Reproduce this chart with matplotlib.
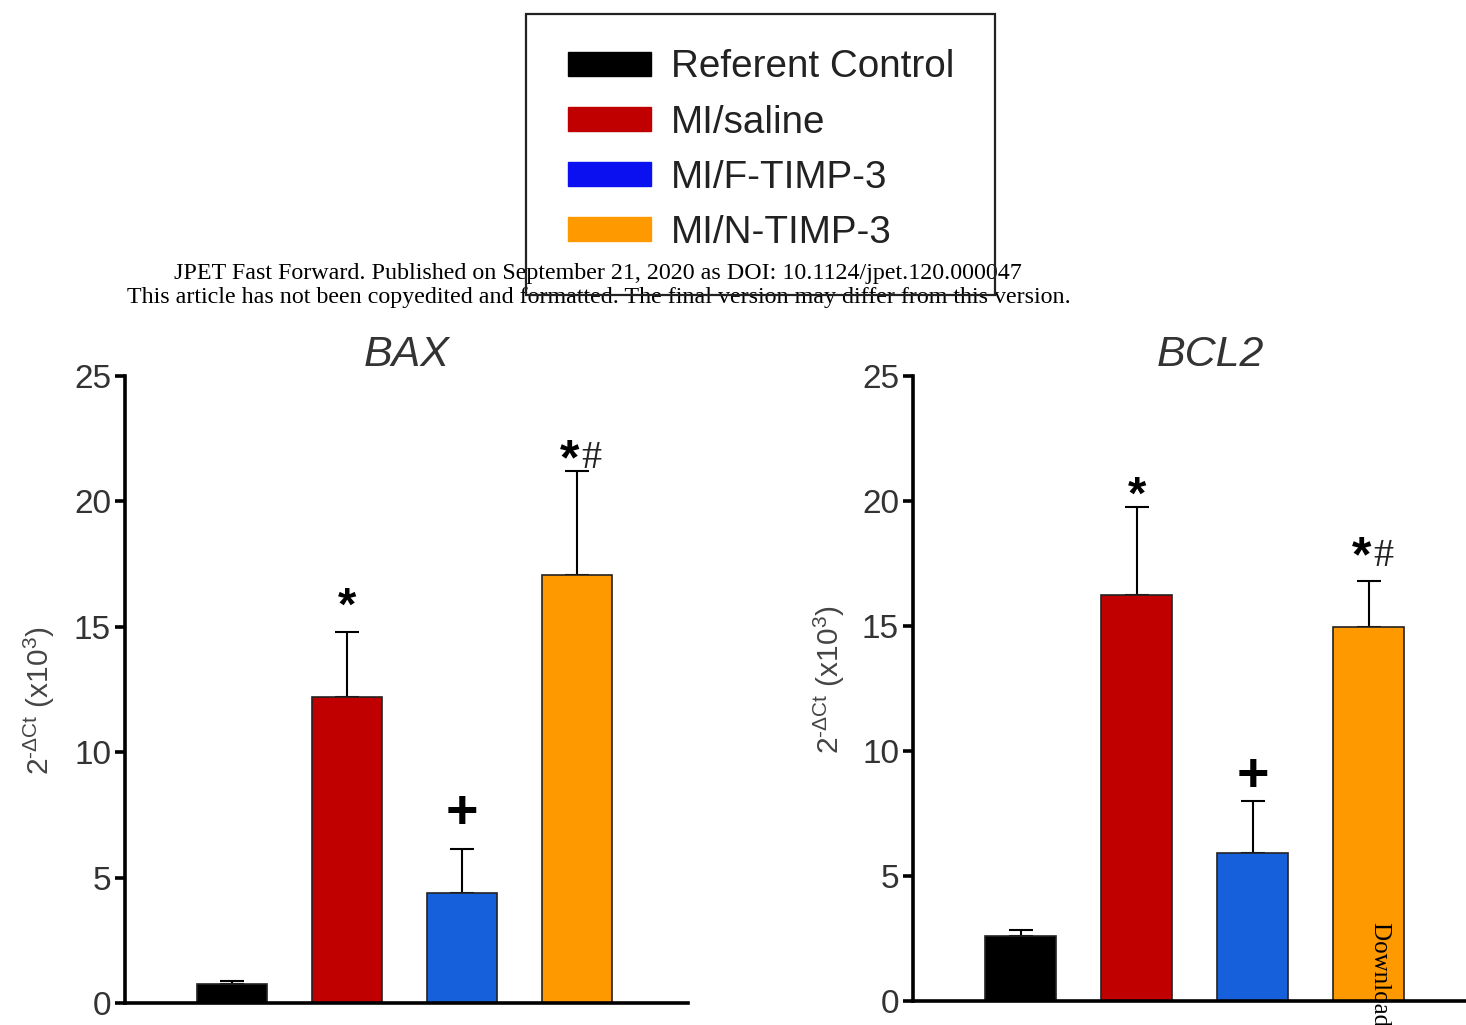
import numpy as np
from matplotlib import pyplot as plt
from matplotlib.patches import Patch, Rectangle

plt.rcParams['font.family'] = ['Liberation Sans', 'DejaVu Sans']
plt.rcParams['mathtext.default'] = 'regular'

groups = ["Referent Control", "MI/saline", "MI/F-TIMP-3", "MI/N-TIMP-3"]
bar_colors = ["#000000", "#C00000", "#1660DC", "#FF9900"]
legend_colors = ["#000000", "#C00000", "#0A10F0", "#FF9900"]

bax_mean = [0.76, 12.2, 4.4, 17.05]
bax_err = [0.12, 2.6, 1.75, 4.15]
bax_marks = ["", "*", "+", "*#"]
bax_mark_y = [0, 16.2, 7.7, 22.0]

bcl2_mean = [2.6, 16.25, 5.92, 14.96]
bcl2_err = [0.25, 3.5, 2.1, 1.85]
bcl2_marks = ["", "*", "+", "*#"]
bcl2_mark_y = [0, 20.6, 9.1, 18.1]

yticks = [0, 5, 10, 15, 20, 25]

fig = plt.figure(figsize=(14.66, 10.25), dpi=100)

panels = [
    ("BAX", bax_mean, bax_err, bax_marks, bax_mark_y,
     [125 / 1466, 22 / 1025, 563 / 1466, 627 / 1025], (-0.93, 3.97), 0.50,
     (-0.12, 0.483)),
    ("BCL2", bcl2_mean, bcl2_err, bcl2_marks, bcl2_mark_y,
     [913 / 1466, 24 / 1025, 553 / 1466, 625 / 1025], (-0.93, 3.84), 0.537,
     (-0.119, 0.515)),
]

for title, mean, err, marks, mark_y, rect, xlim, tx, lab in panels:
    ax = fig.add_axes(rect)
    x = np.arange(len(mean))
    ax.bar(x, mean, width=0.61, color=bar_colors, edgecolor="#222222",
           linewidth=1.2, zorder=2)
    ax.errorbar(x, mean, yerr=[np.zeros(len(err)), err], fmt="none",
                ecolor="black", elinewidth=1.5, capsize=8.3, capthick=1.5, zorder=1)
    # asterisk glyph sits high in its text box, so nudge it down
    for xi, m, my in zip(x, marks, mark_y):
        if m == "+":
            ax.text(xi, my - 0.15, "+", ha="center", va="center", fontsize=40,
                    fontweight="bold")
        elif m == "*":
            ax.text(xi, my - 0.42, "*", ha="center", va="center", fontsize=34,
                    fontweight="bold")
        elif m == "*#":
            ax.text(xi + 0.02, my - 0.4, "*", ha="right", va="center", fontsize=36,
                    fontweight="bold")
            ax.text(xi + 0.04, my - 0.3, "#", ha="left", va="center", fontsize=29,
                    family="Liberation Serif", color="#222222")
    ax.set_xlim(*xlim)
    ax.set_ylim(0, 25)
    ax.set_yticks(yticks)
    ax.set_xticks([])
    for s in ["top", "right"]:
        ax.spines[s].set_visible(False)
    for s in ["left", "bottom"]:
        ax.spines[s].set_linewidth(2.6)
    ax.tick_params(axis="y", length=7, width=2.6, labelsize=24,
                   labelcolor="#333333", pad=3)
    ax.set_ylabel("2$^{\u2010\\Delta Ct}$ (x10$^{3}$)", fontsize=21.5,
                  color="#444444")
    ax.yaxis.set_label_coords(*lab)
    ax.text(tx, 1.016, title, transform=ax.transAxes, ha="center",
            va="baseline", fontsize=31, style="italic", color="#333333")

handles = [Patch(facecolor=c, edgecolor=c) for c in legend_colors]
fig.legend(handles, groups, loc="upper left", bbox_to_anchor=(568 / 1466, 0.952),
           frameon=False, fontsize=27.8, borderpad=0, borderaxespad=0,
           handlelength=2.15, handleheight=0.58, handletextpad=0.52,
           labelspacing=0.5, labelcolor="#222222")
fig.add_artist(Rectangle((526 / 1466, 1 - 295 / 1025), 469 / 1466, 281 / 1025,
                         transform=fig.transFigure, fill=False,
                         edgecolor="#222222", linewidth=1.6, zorder=10))

fig.text(598 / 1466, 1 - 273 / 1025,
         "JPET Fast Forward. Published on September 21, 2020 as DOI: 10.1124/jpet.120.000047",
         ha="center", va="center", fontsize=17.3, family="Liberation Serif")
fig.text(599 / 1466, 1 - 298 / 1025,
         "This article has not been copyedited and formatted. The final version may differ from this version.",
         ha="center", va="center", fontsize=17.3, family="Liberation Serif")
fig.text(1380 / 1466, 1 - 922 / 1025, "Downloaded from jpet.aspetjournals.org",
         rotation=270, ha="center", va="top", fontsize=18,
         family="Liberation Serif")

plt.savefig("out.png", dpi=100)
